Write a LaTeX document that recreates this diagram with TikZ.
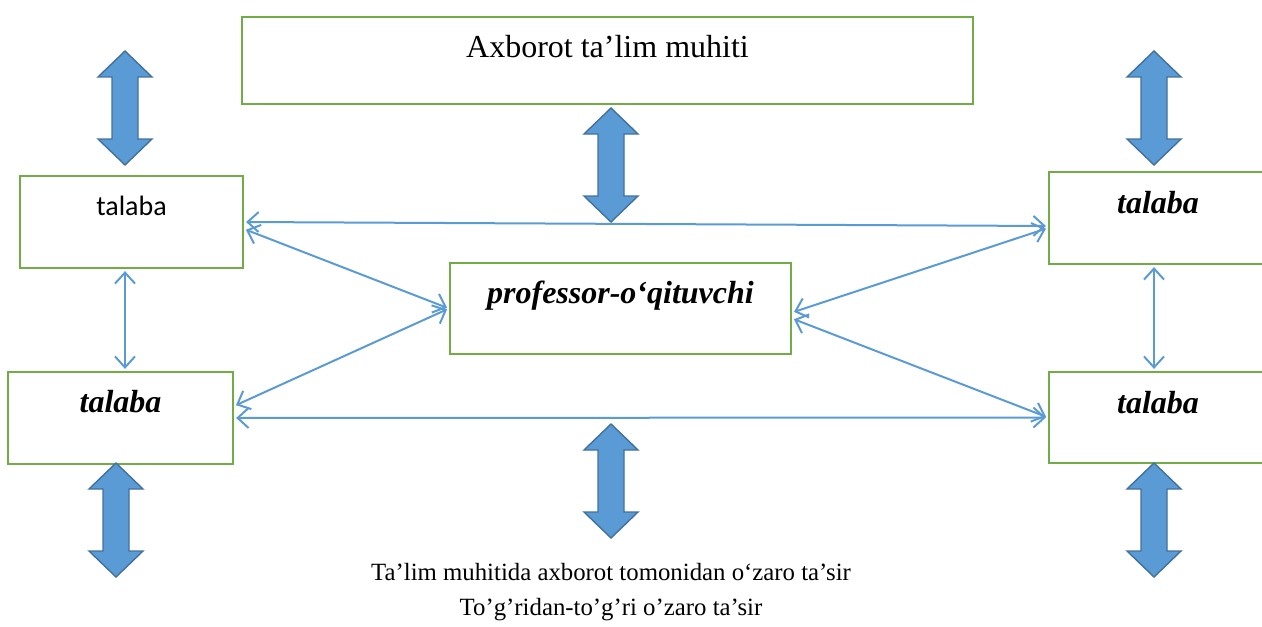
\documentclass[tikz,border=0pt]{standalone}
\usepackage{fontspec}
\setmainfont{Liberation Serif}
\newfontfamily\calibrifont{Carlito}
\usetikzlibrary{arrows.meta}

\definecolor{boxgreen}{RGB}{112,173,71}
\definecolor{lineblue}{RGB}{91,155,213}
\definecolor{arrowedge}{RGB}{65,113,156}

\tikzset{
  box/.style={draw=boxgreen, line width=1.1pt, rectangle, inner sep=0pt},
  link/.style={draw=lineblue, line width=1pt, shorten <=1pt, shorten >=1pt,
    {Straight Barb[length=5.5pt,width=10pt]}-{Straight Barb[length=5.5pt,width=10pt]}},
  bigarrow/.style={fill=lineblue, draw=arrowedge, line width=0.7pt, line join=miter},
  bi/.style={font=\fontsize{16}{19}\selectfont\bfseries\itshape}
}

\begin{document}
\begin{tikzpicture}[x=0.5pt, y=-0.5pt]
\useasboundingbox (0,0) rectangle (1262,626);

  % boxes
  \node [box, minimum width=365.5pt, minimum height=43.5pt, text height=11pt, text depth=13.5pt,
    font=\fontsize{16}{19}\selectfont] (env) at (607.5,60.5) {Axborot ta’lim muhiti};
  \node [box, minimum width=111.5pt, minimum height=46pt, text height=10pt, text depth=17pt,
    font=\fontsize{14}{17}\calibrifont] (s1) at (131.5,222) {talaba};
  \node [box, bi, minimum width=112.5pt, minimum height=46pt, text height=11pt, text depth=17pt] (s2) at (120.5,418) {talaba};
  \node [box, bi, minimum width=109pt, minimum height=46pt, text height=11pt, text depth=16pt] (s3) at (1158,218) {talaba};
  \node [box, bi, minimum width=109pt, minimum height=45.5pt, text height=11pt, text depth=15.5pt] (s4) at (1158,417.5) {talaba};
  \node [box, bi, minimum width=170.5pt, minimum height=45.5pt, text height=11pt, text depth=16.5pt] (prof) at (620.5,308.5) {professor-o‘qituvchi};

  % thin links
  \draw [link] (s1.east) -- ([yshift=-4pt]s3.west);
  \draw [link] ([yshift=-3.5pt]s1.east) -- (prof.west);
  \draw [link] (prof.west) -- ([yshift=6pt]s2.east);
  \draw [link] (s2.east) -- (s4.west);
  \draw [link] ([yshift=-2pt]prof.east) -- ([yshift=-5pt]s3.west);
  \draw [link] ([yshift=-5pt]prof.east) -- (s4.west);
  \draw [link] ([xshift=-3.25pt]s1.south) -- ([xshift=2.25pt]s2.north);
  \draw [link] ([xshift=-2pt]s3.south) -- ([xshift=-2pt]s4.north);

  % block arrows
  \draw [bigarrow, shift={(125,108)}] (0,-57) -- (27,-31) -- (13,-31) -- (13,31) -- (27,31) -- (0,57) -- (-27,31) -- (-13,31) -- (-13,-31) -- (-27,-31) -- cycle;
  \draw [bigarrow, shift={(611,165)}] (0,-57) -- (27,-31) -- (13,-31) -- (13,31) -- (27,31) -- (0,57) -- (-27,31) -- (-13,31) -- (-13,-31) -- (-27,-31) -- cycle;
  \draw [bigarrow, shift={(1154,108)}] (0,-57) -- (27,-31) -- (13,-31) -- (13,31) -- (27,31) -- (0,57) -- (-27,31) -- (-13,31) -- (-13,-31) -- (-27,-31) -- cycle;
  \draw [bigarrow, shift={(116,520)}] (0,-57) -- (27,-31) -- (13,-31) -- (13,31) -- (27,31) -- (0,57) -- (-27,31) -- (-13,31) -- (-13,-31) -- (-27,-31) -- cycle;
  \draw [bigarrow, shift={(611,481)}] (0,-57) -- (27,-31) -- (13,-31) -- (13,31) -- (27,31) -- (0,57) -- (-27,31) -- (-13,31) -- (-13,-31) -- (-27,-31) -- cycle;
  \draw [bigarrow, shift={(1154,520)}] (0,-57) -- (27,-31) -- (13,-31) -- (13,31) -- (27,31) -- (0,57) -- (-27,31) -- (-13,31) -- (-13,-31) -- (-27,-31) -- cycle;

  % legend lines
  \node [anchor=base, font=\fontsize{12.4}{15}\selectfont] (note1) at (611,580) {Ta’lim muhitida axborot tomonidan o‘zaro ta’sir};
  \node [anchor=base, font=\fontsize{12.4}{15}\selectfont] (note2) at (611,615) {To’g’ridan-to’g’ri o’zaro ta’sir};
\end{tikzpicture}
\end{document}
